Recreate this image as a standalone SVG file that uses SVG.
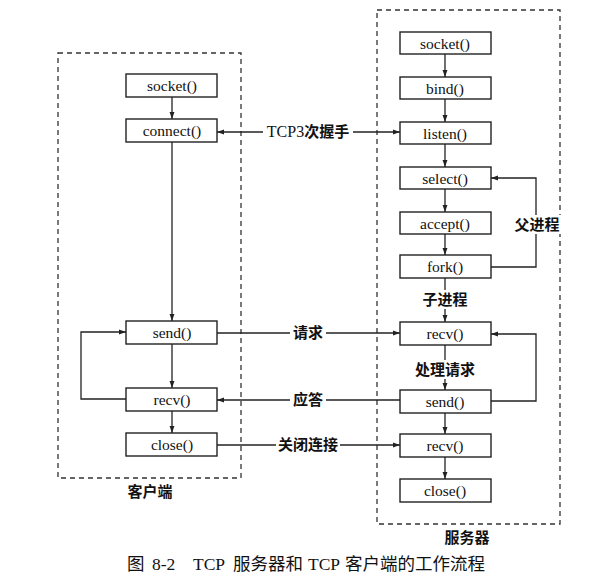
<svg xmlns="http://www.w3.org/2000/svg" width="606" height="579" viewBox="0 0 606 579">
<defs>
<marker id="ah" viewBox="0 0 10 10" refX="10" refY="5" markerWidth="7" markerHeight="7" markerUnits="userSpaceOnUse" orient="auto"><path d="M0,1.5 L10,5 L0,8.5 Z" fill="#222"/></marker>
<style>
.frame{fill:none;stroke:#333;stroke-width:1.3;stroke-dasharray:5,4}
.box{fill:#fff;stroke:#222;stroke-width:1.4}
.t{font-family:"Liberation Serif","Noto Sans CJK SC",serif;font-size:15.5px;text-anchor:middle;fill:#111}
.c{font-family:"Noto Sans CJK SC",sans-serif;font-size:15px;font-weight:bold;text-anchor:middle;fill:#111}
.cap{font-family:"Noto Sans CJK SC",sans-serif;font-size:17.5px;fill:#111}
.capl{font-family:"Liberation Serif",serif;font-size:17.5px;fill:#111}
.ln{fill:none;stroke:#222;stroke-width:1.3}
.a{fill:none;stroke:#222;stroke-width:1.3;marker-end:url(#ah)}
.bg{fill:#fff}
</style>
</defs>
<rect width="606" height="579" fill="#fff"/>
<g id="frames">
<rect class="frame" x="58" y="53" width="183" height="425"/>
<rect class="frame" x="377" y="10" width="183" height="514"/>
</g>
<g id="connectors">
<line class="a" x1="172" y1="97" x2="172" y2="119"/>
<line class="a" x1="172" y1="142" x2="172" y2="321"/>
<line class="a" x1="172" y1="344" x2="172" y2="388"/>
<line class="a" x1="172" y1="411" x2="172" y2="433"/>
<polyline class="a" points="126,399 81,399 81,332 126,332"/>
<line class="a" x1="445" y1="54" x2="445" y2="77"/>
<line class="a" x1="445" y1="99" x2="445" y2="122"/>
<line class="a" x1="445" y1="144" x2="445" y2="167"/>
<line class="a" x1="445" y1="189" x2="445" y2="212"/>
<line class="a" x1="445" y1="234" x2="445" y2="255"/>
<line class="a" x1="445" y1="278" x2="445" y2="322"/>
<line class="a" x1="445" y1="345" x2="445" y2="390"/>
<line class="a" x1="445" y1="413" x2="445" y2="434"/>
<line class="a" x1="445" y1="457" x2="445" y2="479"/>
<polyline class="a" points="491,267 536,267 536,178 491,178"/>
<polyline class="a" points="491,401 536,401 536,334 491,334"/>
<line class="a" x1="308" y1="132" x2="217" y2="132"/>
<line class="a" x1="308" y1="132" x2="400" y2="132"/>
<line class="a" x1="217" y1="333" x2="400" y2="333"/>
<line class="a" x1="400" y1="400" x2="217" y2="400"/>
<line class="a" x1="217" y1="445" x2="400" y2="445"/>
</g>
<g id="labels">
<rect class="bg" x="263" y="123" width="90" height="18"/>
<text class="c" x="308" y="137"><tspan font-family="Liberation Serif" font-weight="normal" font-size="16">TCP3</tspan>次握手</text>
<rect class="bg" x="290" y="324" width="36" height="18"/>
<text class="c" x="308" y="338">请求</text>
<rect class="bg" x="290" y="391" width="36" height="18"/>
<text class="c" x="308" y="405">应答</text>
<rect class="bg" x="276" y="436" width="64" height="18"/>
<text class="c" x="308" y="450">关闭连接</text>
<rect class="bg" x="513" y="215" width="48" height="19"/>
<text class="c" x="537" y="230">父进程</text>
<rect class="bg" x="419" y="290" width="52" height="19"/>
<text class="c" x="445" y="305">子进程</text>
<rect class="bg" x="412" y="360" width="66" height="19"/>
<text class="c" x="445" y="375">处理请求</text>
<text class="c" x="150" y="497">客户端</text>
<text class="c" x="467" y="543">服务器</text>
</g>
<g id="caption">
<text class="cap" x="127" y="570">图</text>
<text class="capl" x="152" y="570">8-2</text>
<text class="capl" x="193" y="570">TCP</text>
<text class="cap" x="233" y="570">服务器和</text>
<text class="capl" x="308" y="570">TCP</text>
<text class="cap" x="345" y="570">客户端的工作流程</text>
</g>
<g id="client-socket"><rect class="box" x="126" y="74" width="91" height="23"/><text class="t" x="172" y="91">socket()</text></g>
<g id="client-connect"><rect class="box" x="126" y="119" width="91" height="23"/><text class="t" x="172" y="136">connect()</text></g>
<g id="client-send"><rect class="box" x="126" y="321" width="91" height="23"/><text class="t" x="172" y="338">send()</text></g>
<g id="client-recv"><rect class="box" x="126" y="388" width="91" height="23"/><text class="t" x="172" y="405">recv()</text></g>
<g id="client-close"><rect class="box" x="126" y="433" width="91" height="23"/><text class="t" x="172" y="450">close()</text></g>
<g id="server-socket"><rect class="box" x="400" y="32" width="91" height="22"/><text class="t" x="445" y="48.5">socket()</text></g>
<g id="server-bind"><rect class="box" x="400" y="77" width="91" height="22"/><text class="t" x="445" y="93.5">bind()</text></g>
<g id="server-listen"><rect class="box" x="400" y="122" width="91" height="22"/><text class="t" x="445" y="138.5">listen()</text></g>
<g id="server-select"><rect class="box" x="400" y="167" width="91" height="22"/><text class="t" x="445" y="183.5">select()</text></g>
<g id="server-accept"><rect class="box" x="400" y="212" width="91" height="22"/><text class="t" x="445" y="228.5">accept()</text></g>
<g id="server-fork"><rect class="box" x="400" y="255" width="91" height="23"/><text class="t" x="445" y="272">fork()</text></g>
<g id="server-recv1"><rect class="box" x="400" y="322" width="91" height="23"/><text class="t" x="445" y="339">recv()</text></g>
<g id="server-send"><rect class="box" x="400" y="390" width="91" height="23"/><text class="t" x="445" y="407">send()</text></g>
<g id="server-recv2"><rect class="box" x="400" y="434" width="91" height="23"/><text class="t" x="445" y="451">recv()</text></g>
<g id="server-close"><rect class="box" x="400" y="479" width="91" height="23"/><text class="t" x="445" y="496">close()</text></g>
</svg>
